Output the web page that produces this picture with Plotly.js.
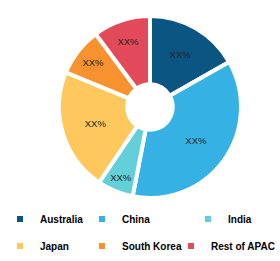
<!DOCTYPE html>
<html><head><meta charset="utf-8">
<script src="https://cdn.plot.ly/plotly-3.0.1.min.js"></script>
<style>html,body{margin:0;padding:0;background:#fff}#chart{width:280px;height:261px}</style>
</head><body><div id="chart"></div>
<script>
const categories = ["Australia", "China", "India", "Japan", "South Korea", "Rest of APAC"];
const shares = [16.8, 36.3, 6.4, 21.8, 8.6, 10.2];
const sliceLabels = ["XX%", "XX%", "XX%", "XX%", "XX%", "XX%"];
const colors = ["#0b5583", "#35b1e3", "#62cfd9", "#ffc85c", "#f7922e", "#e24a5a"];

// legend layout: per-entry anchor position (paper fraction) and side, row centres in px
const legendX = [0, 82 / 280, 188 / 280, 0, 82 / 280, 1];
const legendAnchor = ["left", "left", "left", "left", "left", "right"];
const legendRows = [219, 246];

const W = 280, H = 261;
const pie = {
  type: "pie",
  labels: categories,
  values: shares,
  text: sliceLabels,
  textinfo: "text",
  textposition: "inside",
  insidetextorientation: "horizontal",
  textfont: {family: "Liberation Sans, Arial, sans-serif", size: 9.5, color: "#222"},
  sort: false,
  direction: "clockwise",
  rotation: 0,
  hole: 0.25,
  marker: {colors: colors, line: {color: "#ffffff", width: 4}},
  domain: {x: [50/W, 250/W], y: [1 - 198/H, 1 - 16/H]},
  showlegend: false,
  hoverinfo: "label+percent"
};

const legendFont = {family: "Liberation Sans, Arial, sans-serif", size: 10, color: "#000", weight: "bold"};
const legendTraces = [];
const layout = {
  width: W, height: H,
  margin: {l: 0, r: 0, t: 0, b: 0},
  paper_bgcolor: "#fff", plot_bgcolor: "#fff",
  xaxis: {visible: false}, yaxis: {visible: false}
};
categories.forEach((c, i) => {
  const key = i === 0 ? "legend" : "legend" + (i + 1);
  legendTraces.push({
    type: "scatter", mode: "markers", x: [null], y: [null], name: c,
    marker: {symbol: "square", size: 6, color: colors[i]},
    legend: key, hoverinfo: "skip"
  });
  const row = Math.floor(i / 3);
  layout[key] = {
    orientation: "h", xanchor: legendAnchor[i], yanchor: "middle",
    x: legendX[i], y: 1 - legendRows[row] / H,
    font: legendFont, bgcolor: "rgba(0,0,0,0)", borderwidth: 0
  };
});
Plotly.newPlot("chart", [pie, ...legendTraces], layout, {displayModeBar: false, staticPlot: true});
</script></body></html>
